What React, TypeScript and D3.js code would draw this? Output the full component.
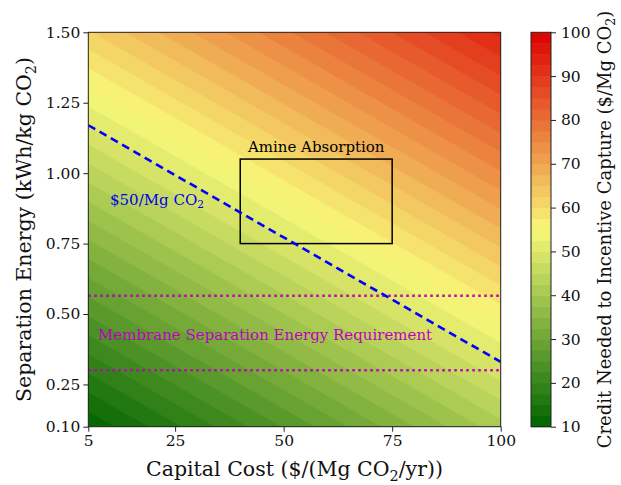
import React, { useEffect, useRef } from 'react';
import * as d3 from 'd3';

// credit ($/Mg CO2) read at three corners of the map
const cornerCapital = [5, 100, 5];
const cornerEnergy = [0.1, 0.1, 1.5];
const cornerCredit = [10.5, 41.5, 62.2];

const capitalTicks = [5, 25, 50, 75, 100];
const energyTicks = [0.1, 0.25, 0.5, 0.75, 1.0, 1.25, 1.5];
const creditTicks = [10, 20, 30, 40, 50, 60, 70, 80, 90, 100];
const creditLevels = d3.range(10, 100.001, 2.5);
const colorStops = ['#006400', '#f8f878', '#dc0000'];

const amineCapital = [40, 75];
const amineEnergy = [0.75, 1.05];
const targetCapital = [5, 100];
const targetEnergy = [1.17, 0.33];
const membraneEnergy = [0.565, 0.3];

const FONT = '"DejaVu Serif", serif';

const App = () => {
  const svgRef = useRef<SVGSVGElement>(null);

  useEffect(() => {
    const svg = d3.select(svgRef.current);
    svg.selectAll('*').remove();

    const plot = { left: 88.3, right: 500.7, top: 32.3, bottom: 426.7 };
    const bar = { left: 531, right: 551 };

    const x = d3.scaleLinear().domain([5, 100]).range([plot.left, plot.right]);
    const y = d3.scaleLinear().domain([0.1, 1.5]).range([plot.bottom, plot.top]);
    const cy = d3.scaleLinear().domain([10, 100]).range([plot.bottom, plot.top]);
    const cmap = d3.scaleLinear<string>().domain([0, 0.5, 1]).range(colorStops).interpolate(d3.interpolateRgb);

    // plane through the three corner readings
    const a = (cornerCredit[1] - cornerCredit[0]) / (cornerCapital[1] - cornerCapital[0]);
    const b = (cornerCredit[2] - cornerCredit[0]) / (cornerEnergy[2] - cornerEnergy[0]);
    const c0 = cornerCredit[0] - a * cornerCapital[0] - b * cornerEnergy[0];
    const energyAt = (level, cap) => (level - c0 - a * cap) / b;

    const bandColor = (i) => cmap(((creditLevels[i] + creditLevels[i + 1]) / 2 - 10) / 90);

    svg.append('defs').append('clipPath').attr('id', 'plotClip')
      .append('rect')
      .attr('x', plot.left).attr('y', plot.top)
      .attr('width', plot.right - plot.left).attr('height', plot.bottom - plot.top);

    const bands = svg.append('g').attr('clip-path', 'url(#plotClip)');
    for (let i = 0; i < creditLevels.length - 1; i++) {
      const L = creditLevels[i];
      const pts = [
        [x(-60), y(energyAt(L, -60))],
        [x(160), y(energyAt(L, 160))],
        [x(160), y(20)],
        [x(-60), y(20)],
      ];
      bands.append('polygon')
        .attr('points', pts.map((p) => p.join(',')).join(' '))
        .attr('fill', bandColor(i));
    }

    // membrane dotted lines
    svg.append('g').attr('clip-path', 'url(#plotClip)')
      .selectAll('line').data(membraneEnergy).join('line')
      .attr('x1', plot.left).attr('x2', plot.right)
      .attr('y1', (d) => y(d)).attr('y2', (d) => y(d))
      .attr('stroke', '#bf00bf').attr('stroke-width', 2.5)
      .attr('stroke-dasharray', '2.5,3.5');

    // amine box
    svg.append('rect')
      .attr('x', x(amineCapital[0])).attr('y', y(amineEnergy[1]))
      .attr('width', x(amineCapital[1]) - x(amineCapital[0]))
      .attr('height', y(amineEnergy[0]) - y(amineEnergy[1]))
      .attr('fill', 'none').attr('stroke', '#000').attr('stroke-width', 1.5);

    // $50 line
    svg.append('line').attr('clip-path', 'url(#plotClip)')
      .attr('x1', x(targetCapital[0])).attr('y1', y(targetEnergy[0]))
      .attr('x2', x(targetCapital[1])).attr('y2', y(targetEnergy[1]))
      .attr('stroke', '#0000ff').attr('stroke-width', 2.6)
      .attr('stroke-dasharray', '8,5');

    // frame
    svg.append('rect')
      .attr('x', plot.left).attr('y', plot.top)
      .attr('width', plot.right - plot.left).attr('height', plot.bottom - plot.top)
      .attr('fill', 'none').attr('stroke', '#222').attr('stroke-width', 1);

    // axes
    const styleAxis = (g) => {
      g.select('.domain').remove();
      g.selectAll('text').attr('font-family', FONT).attr('font-size', 15.5).attr('fill', '#111');
      g.selectAll('line').attr('stroke', '#222');
    };
    svg.append('g').attr('transform', `translate(0,${plot.bottom})`)
      .call(d3.axisBottom(x).tickValues(capitalTicks).tickSize(5).tickPadding(3).tickFormat(d3.format('d')))
      .call(styleAxis);
    svg.append('g').attr('transform', `translate(${plot.left},0)`)
      .call(d3.axisLeft(y).tickValues(energyTicks).tickSize(5).tickPadding(3).tickFormat(d3.format('.2f')))
      .call(styleAxis);

    // colorbar
    const cbar = svg.append('g');
    for (let i = 0; i < creditLevels.length - 1; i++) {
      cbar.append('rect')
        .attr('x', bar.left).attr('width', bar.right - bar.left)
        .attr('y', cy(creditLevels[i + 1])).attr('height', cy(creditLevels[i]) - cy(creditLevels[i + 1]) + 0.5)
        .attr('fill', bandColor(i));
    }
    cbar.append('rect')
      .attr('x', bar.left).attr('y', plot.top)
      .attr('width', bar.right - bar.left).attr('height', plot.bottom - plot.top)
      .attr('fill', 'none').attr('stroke', '#222').attr('stroke-width', 1);
    svg.append('g').attr('transform', `translate(${bar.right},0)`)
      .call(d3.axisRight(cy).tickValues(creditTicks).tickSize(5).tickPadding(5).tickFormat(d3.format('d')))
      .call(styleAxis);

    // text with a subscript 2: parts are [text, shift] where 1 = drop down, -1 = back up
    const txt = (sel, parts, size) => {
      parts.forEach(([s, sub]) => {
        sel.append('tspan').text(s)
          .attr('font-size', sub === 1 ? size * 0.7 : size)
          .attr('dy', sub === 1 ? size * 0.22 : sub === -1 ? -size * 0.22 : 0);
      });
      return sel;
    };

    svg.append('text').attr('x', (x(amineCapital[0]) + x(amineCapital[1])) / 2).attr('y', 152)
      .attr('text-anchor', 'middle').attr('font-family', FONT).attr('font-size', 15).attr('fill', '#000')
      .text('Amine Absorption');

    txt(svg.append('text').attr('x', 110).attr('y', 205).attr('font-family', FONT).attr('fill', '#0000ee'),
      [['$50/Mg CO', 0], ['2', 1]], 15);

    svg.append('text').attr('x', 98).attr('y', 340).attr('font-family', FONT).attr('font-size', 15)
      .attr('fill', '#bf00bf').text('Membrane Separation Energy Requirement');

    txt(svg.append('text').attr('x', (plot.left + plot.right) / 2).attr('y', 476)
      .attr('text-anchor', 'middle').attr('font-family', FONT).attr('fill', '#111'),
      [['Capital Cost ($/(Mg CO', 0], ['2', 1], ['/yr))', -1]], 20.5);

    txt(svg.append('text').attr('transform', `translate(31,${(plot.top + plot.bottom) / 2}) rotate(-90)`)
      .attr('text-anchor', 'middle').attr('font-family', FONT).attr('fill', '#111'),
      [['Separation Energy (kWh/kg CO', 0], ['2', 1], [')', -1]], 20.5);

    txt(svg.append('text').attr('transform', `translate(611,${(plot.top + plot.bottom) / 2}) rotate(-90)`)
      .attr('text-anchor', 'middle').attr('font-family', FONT).attr('fill', '#111'),
      [['Credit Needed to Incentive Capture ($/Mg CO', 0], ['2', 1], [')', -1]], 18);
  }, []);

  return (
    <svg ref={svgRef} width={621} height={485}
      style={{ position: 'absolute', left: 0, top: 0, background: '#fff' }} />
  );
};

export default App;
